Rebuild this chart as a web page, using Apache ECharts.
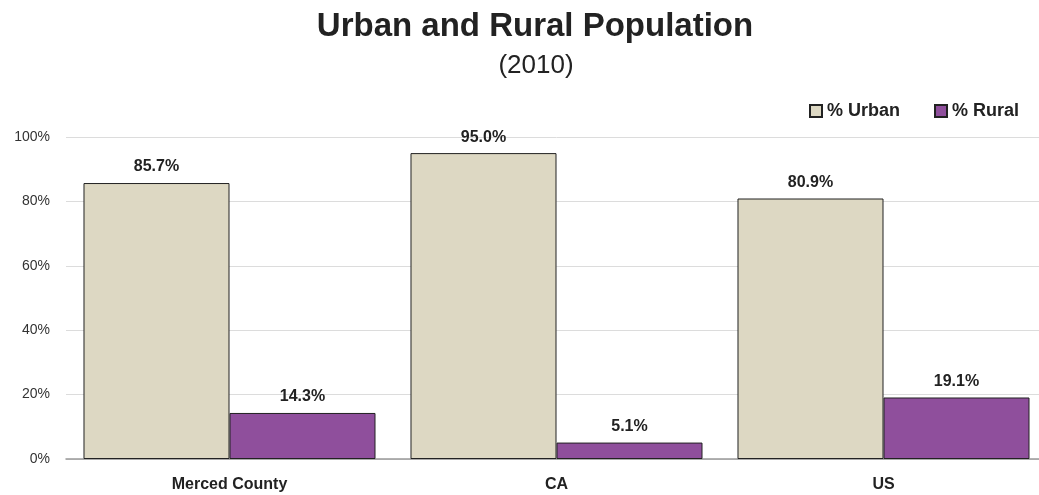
<!DOCTYPE html>
<html><head><meta charset="utf-8">
<script src="https://cdn.jsdelivr.net/npm/echarts@6/dist/echarts.min.js"></script>
<style>html,body{margin:0;padding:0;background:#fff;overflow:hidden}#c{width:1047px;height:495px}</style>
</head><body><div id="c"></div>
<script>
const categories = ['Merced County', 'CA', 'US'];
const urban = [85.7, 95.0, 80.9];
const rural = [14.3, 5.1, 19.1];
const yTicks = [0, 20, 40, 60, 80, 100];

const FONT = '"Liberation Sans", Arial, sans-serif';
const chart = echarts.init(document.getElementById('c'), null, {renderer: 'canvas'});
const lbl = {show: true, position: 'top', distance: 8, fontFamily: FONT, fontWeight: 'bold', fontSize: 16, color: '#222',
  formatter: p => p.value.toFixed(1) + '%'};
chart.setOption({
  animation: false,
  textStyle: {fontFamily: FONT},
  title: [
    {text: 'Urban and Rural Population', left: 530, textAlign: 'center', top: 5,
     textStyle: {fontFamily: FONT, fontWeight: 'bold', fontSize: 33, color: '#222'}},
    {text: '(2010)', left: 531, textAlign: 'center', top: 48,
     textStyle: {fontFamily: FONT, fontWeight: 'normal', fontSize: 26, color: '#222'}}
  ],
  legend: {
    left: 804, top: 97, itemWidth: 12, itemHeight: 12, itemGap: 34,
    icon: 'rect',
    textStyle: {fontFamily: FONT, fontWeight: 'bold', fontSize: 18, color: '#222'},
    data: ['% Urban', '% Rural']
  },
  grid: {left: 66, top: 137, right: 0, bottom: 36, containLabel: false},
  xAxis: {
    type: 'category', data: categories,
    axisTick: {show: false},
    axisLine: {lineStyle: {color: '#999', width: 1.5}},
    axisLabel: {fontFamily: FONT, fontWeight: 'bold', fontSize: 16, color: '#222', margin: 18}
  },
  yAxis: {
    type: 'value', min: yTicks[0], max: yTicks[yTicks.length-1], interval: 20,
    axisLine: {show: false}, axisTick: {show: false},
    splitLine: {lineStyle: {color: '#dcdcdc', width: 1}},
    axisLabel: {fontFamily: FONT, fontSize: 14, color: '#333', margin: 16, formatter: '{value}%'}
  },
  series: [
    {name: '% Urban', type: 'bar', data: urban, barCategoryGap: '10.7%', barGap: '0%',
     itemStyle: {color: '#ddd8c3', borderColor: '#222', borderWidth: 1}, label: lbl},
    {name: '% Rural', type: 'bar', data: rural, barGap: '0%',
     itemStyle: {color: '#8f4f9c', borderColor: '#222', borderWidth: 1}, label: lbl}
  ]
});
</script></body></html>
